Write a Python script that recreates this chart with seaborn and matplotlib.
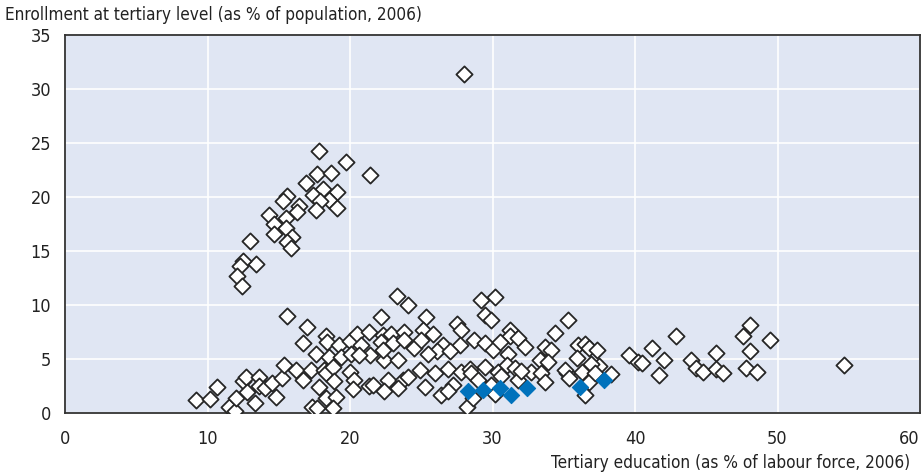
import matplotlib
matplotlib.use("Agg")
import matplotlib.pyplot as plt
import seaborn as sns
import pandas as pd

# Tertiary education share of the labour force (x) vs tertiary enrolment share of population (y)
upper_x = [17.8, 19.7, 21.4, 17.7, 18.7, 16.9, 18.1, 19.1, 17.4, 15.6, 15.3, 18.5, 17.9, 16.4,
           19.1, 17.6, 16.3, 14.3, 15.5, 14.7, 15.5, 14.7, 15.9, 15.6, 15.85, 13.0, 13.4, 12.5,
           12.3, 12.1, 12.4, 28.0]
upper_y = [24.3, 23.2, 22.0, 22.1, 22.2, 21.3, 20.7, 20.5, 20.2, 20.1, 19.6, 19.7, 19.6, 19.2,
           19.0, 18.8, 18.6, 18.3, 18.1, 17.5, 17.1, 16.6, 16.3, 15.8, 15.3, 15.9, 13.8, 14.1,
           13.6, 12.7, 11.8, 31.4]

left_x = [9.2, 10.2, 10.7, 11.5, 11.9, 12.0, 12.5, 12.7, 12.8, 13.3, 13.6, 13.6, 14.0, 14.5,
          14.8, 15.2, 15.4, 16.2, 15.6, 17.0, 16.7, 18.3, 18.4, 17.6, 18.5, 19.2, 19.4, 20.0,
          20.1, 20.5, 20.8, 17.25, 18.2, 18.35, 18.8, 16.7, 17.8, 18.9, 18.35, 19.05, 18.8,
          17.3, 17.7, 20.0, 20.3, 20.2, 21.3]
left_y = [1.2, 1.3, 2.4, 0.6, 0.2, 1.4, 3.0, 3.3, 1.9, 0.9, 3.3, 2.5, 2.3, 2.8,
          1.5, 3.2, 4.4, 4.0, 9.0, 8.0, 6.5, 7.1, 6.6, 5.5, 5.2, 6.3, 5.2, 6.7,
          5.5, 7.3, 6.3, 3.95, 4.0, 3.7, 4.3, 3.1, 2.4, 3.0, 1.4, 1.5, 0.5,
          0.6, 0.5, 3.8, 3.1, 2.2, 2.5]

mid_x = [23.3, 24.1, 22.2, 25.3, 27.5, 27.8, 21.3, 22.3, 22.9, 23.8, 25.1, 25.8, 22.2, 23.0,
         23.8, 24.5, 25.0, 26.5, 27.7, 28.7, 21.4, 22.4, 23.4, 22.3, 26.1, 27.0, 25.5, 20.6,
         24.9, 25.95, 26.9, 27.8, 28.4, 22.7, 23.7, 24.1, 21.6, 22.4, 23.4, 25.25, 26.4, 27.2,
         26.9, 28.2]
mid_y = [10.8, 10.0, 8.9, 8.9, 8.2, 7.7, 7.5, 7.2, 7.3, 7.5, 7.7, 7.3, 6.6, 6.45,
         6.8, 6.0, 6.8, 6.3, 6.3, 6.8, 5.4, 4.9, 4.9, 5.8, 5.7, 5.7, 5.5, 5.4,
         4.0, 3.7, 4.1, 3.8, 4.1, 3.1, 3.1, 3.3, 2.6, 2.0, 2.3, 2.4, 1.7, 2.6,
         2.0, 0.6]

right_x = [29.2, 30.15, 29.5, 29.9, 35.3, 34.4, 31.2, 31.2, 29.45, 30.0, 30.5, 31.8, 32.3, 31.1,
           33.7, 34.1, 33.3, 33.9, 36.0, 35.9, 28.5, 29.45, 30.4, 31.0, 31.6, 30.6, 31.8, 32.7,
           33.4, 33.7, 35.2, 29.0, 29.9, 30.2, 28.6, 32.0, 36.5, 36.8, 37.3, 37.5, 36.9, 36.3,
           35.1, 35.4, 38.3, 36.8, 36.5, 37.2, 39.6, 40.2, 40.5, 41.2, 42.0, 41.7, 42.85, 43.9,
           44.3, 48.1, 47.6, 49.5, 48.1, 45.65, 44.8, 45.7, 46.2, 47.8, 48.55, 54.7]
right_y = [10.5, 10.7, 9.1, 8.6, 8.6, 7.4, 7.7, 7.1, 6.45, 5.8, 6.6, 6.9, 6.1, 5.5,
           6.1, 5.8, 4.9, 4.75, 6.3, 5.1, 3.7, 4.3, 3.8, 4.4, 4.2, 3.4, 3.1, 3.8,
           3.7, 2.9, 3.7, 3.1, 2.6, 1.8, 1.4, 3.9, 6.4, 6.0, 5.8, 4.35, 4.5, 3.8,
           4.0, 3.2, 3.6, 2.9, 1.7, 3.7, 5.4, 4.7, 4.6, 6.0, 4.9, 3.5, 7.1, 4.9,
           4.2, 8.15, 7.1, 6.8, 5.7, 5.6, 3.8, 4.1, 3.7, 4.2, 3.8, 4.4]

# Highlighted observations
focus_x = [28.3, 29.3, 30.5, 31.3, 32.4, 36.15, 37.8]
focus_y = [2.0, 2.1, 2.3, 1.7, 2.3, 2.4, 3.06]

x_ticks = [0, 10, 20, 30, 40, 50, 60]
y_ticks = [0, 5, 10, 15, 20, 25, 30, 35]
x_title = "Tertiary education (as % of labour force, 2006)"
y_title = "Enrollment at tertiary level (as % of population, 2006)"

others = pd.DataFrame({
    "x": upper_x + left_x + mid_x + right_x,
    "y": upper_y + left_y + mid_y + right_y,
})
focus = pd.DataFrame({"x": focus_x, "y": focus_y})

sns.set_theme(style="white")
plt.rcParams["font.family"] = ["DejaVu Sans"]
plt.rcParams["font.stretch"] = "condensed"

fig = plt.figure(figsize=(9.22, 4.76), dpi=100)
ax = fig.add_axes([65 / 922, 63 / 476, 855 / 922, 378 / 476])
ax.set_facecolor("#E0E6F3")

sns.scatterplot(data=others, x="x", y="y", marker="D", s=68, color="white",
                edgecolor="#262626", linewidth=1.3, ax=ax, zorder=3)
sns.scatterplot(data=focus, x="x", y="y", marker="D", s=68, color="#0072BC",
                edgecolor="#0072BC", linewidth=0.8, ax=ax, zorder=4)

ax.set_xlim(0, 60)
ax.set_ylim(0, 35)
ax.set_xticks(x_ticks)
ax.set_yticks(y_ticks)
ax.grid(True, color="white", linewidth=1.2, zorder=0)
ax.set_axisbelow(True)
for sp in ax.spines.values():
    sp.set_color("#333333")
    sp.set_linewidth(1.3)
ax.tick_params(axis="both", direction="in", length=5, width=1, color="#333333",
               labelsize=13, labelcolor="#222222")
ax.tick_params(axis="x", pad=12)
ax.tick_params(axis="y", pad=10)
fig.canvas.draw()
ax.get_xticklabels()[-1].set_horizontalalignment("right")
ax.get_xticklabels()[-1].set_x(60.0)

ax.set_xlabel("")
ax.set_ylabel("")
fig.text(5 / 922, 1 - 15 / 476, y_title, ha="left", va="center", fontsize=12.3,
         color="#222222", stretch="condensed")
fig.text(910 / 922, 1 - 463 / 476, x_title, ha="right", va="center", fontsize=12.3,
         color="#222222", stretch="condensed")

fig.savefig("out.png", dpi=100)
